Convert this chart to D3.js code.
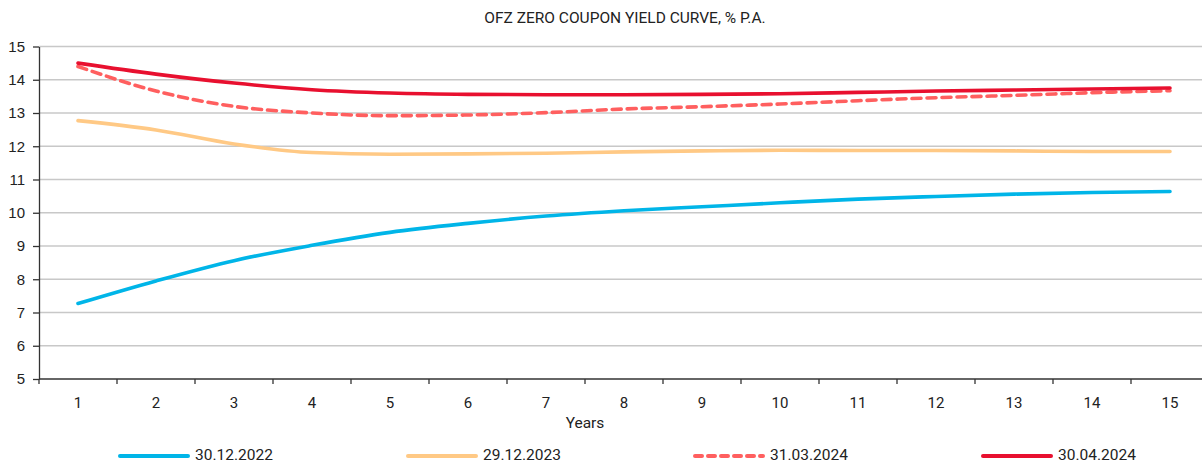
<!DOCTYPE html>
<html>
<head>
<meta charset="utf-8">
<script src="https://cdn.jsdelivr.net/npm/d3@7"></script>
<style>
  body { margin: 0; background: #fff; }
  svg { display: block; font-family: Roboto, "Liberation Sans", sans-serif; }
  .grid line { stroke: #c8c8c8; stroke-width: 1.3; }
  .axis path, .axis line { stroke: #333; stroke-width: 1.3; }
  .axis text { fill: #222; font-size: 15px; }
</style>
</head>
<body>
<script>
// data
const years = [1, 2, 3, 4, 5, 6, 7, 8, 9, 10, 11, 12, 13, 14, 15];
const yield2022 = [7.27, 7.95, 8.56, 9.02, 9.41, 9.68, 9.9, 10.06, 10.18, 10.3, 10.41, 10.49, 10.56, 10.61, 10.64];
const yield2023 = [12.77, 12.49, 12.07, 11.81, 11.76, 11.77, 11.79, 11.83, 11.86, 11.88, 11.87, 11.87, 11.86, 11.84, 11.84];
const yieldMar24 = [14.4, 13.66, 13.2, 13.0, 12.92, 12.94, 13.01, 13.12, 13.19, 13.27, 13.37, 13.46, 13.53, 13.61, 13.67];
const yieldApr24 = [14.5, 14.17, 13.9, 13.7, 13.6, 13.56, 13.55, 13.55, 13.56, 13.58, 13.62, 13.66, 13.69, 13.72, 13.75];
const yTicks = [5, 6, 7, 8, 9, 10, 11, 12, 13, 14, 15];

const series = [
  {name: "30.12.2022", values: yield2022, color: "#00b5e8", dash: null},
  {name: "29.12.2023", values: yield2023, color: "#ffc985", dash: null},
  {name: "31.03.2024", values: yieldMar24, color: "#ff5f5f", dash: "9,6"},
  {name: "30.04.2024", values: yieldApr24, color: "#e8102f", dash: null}
];

const width = 1202, height = 465;
const margin = {top: 46.5, left: 39, bottom: 86};
const plotRight = 1209;

const svg = d3.select("body").append("svg")
    .attr("width", width)
    .attr("height", height);

const x = d3.scaleBand()
    .domain(years)
    .range([margin.left, plotRight]);
const y = d3.scaleLinear()
    .domain([5, 15])
    .range([height - margin.bottom, margin.top]);

// horizontal grid
svg.append("g").classed("grid", true)
  .selectAll("line")
  .data(yTicks.filter(d => d > 5))
  .join("line")
    .attr("x1", margin.left)
    .attr("x2", width)
    .attr("y1", d => y(d))
    .attr("y2", d => y(d));

// y axis
svg.append("g").classed("axis", true)
    .attr("transform", `translate(${margin.left},0)`)
    .call(d3.axisLeft(y).tickValues(yTicks).tickSize(6).tickPadding(8).tickSizeOuter(0))
    .call(g => g.selectAll("text").attr("font-size", 15.5));

// x axis, ticks between categories
const gx = svg.append("g").classed("axis", true)
    .attr("transform", `translate(0,${y(5)})`);
gx.append("line")
    .attr("x1", margin.left).attr("x2", width)
    .attr("y1", 0).attr("y2", 0);
gx.selectAll(".tk")
  .data(years)
  .join("line").classed("tk", true)
    .attr("x1", d => x(d)).attr("x2", d => x(d))
    .attr("y1", 0).attr("y2", 5);
gx.selectAll("text")
  .data(years)
  .join("text")
    .attr("x", d => x(d) + x.bandwidth() / 2)
    .attr("y", 29)
    .attr("text-anchor", "middle")
    .attr("font-size", 15.5)
    .text(d => d);

svg.append("text")
    .attr("x", 585)
    .attr("y", 428)
    .attr("text-anchor", "middle")
    .attr("font-size", 15.5)
    .attr("fill", "#222")
    .text("Years");

// title
svg.append("text")
    .attr("x", 625)
    .attr("y", 23)
    .attr("text-anchor", "middle")
    .attr("font-size", 15.5)
    .attr("fill", "#222")
    .text("OFZ ZERO COUPON YIELD CURVE, % P.A.");

// lines
const line = d3.line()
    .x((d, i) => x(years[i]) + x.bandwidth() / 2)
    .y(d => y(d))
    .curve(d3.curveMonotoneX);

svg.append("g")
  .selectAll("path")
  .data(series)
  .join("path")
    .attr("fill", "none")
    .attr("stroke", d => d.color)
    .attr("stroke-width", 3.6)
    .attr("stroke-linecap", "round")
    .attr("stroke-dasharray", d => d.dash)
    .attr("d", d => line(d.values));

// legend
const legendX = [120, 408, 695, 983];
const legend = svg.append("g")
  .selectAll("g")
  .data(series)
  .join("g")
    .attr("transform", (d, i) => `translate(${legendX[i]},456)`);
legend.append("line")
    .attr("x1", 0).attr("x2", 68)
    .attr("stroke", d => d.color)
    .attr("stroke-width", 4)
    .attr("stroke-linecap", "round")
    .attr("stroke-dasharray", d => d.dash ? "7,6" : null);
legend.append("text")
    .attr("x", 75)
    .attr("y", 4)
    .attr("font-size", 15.5)
    .attr("fill", "#222")
    .text(d => d.name);
</script>
</body>
</html>
